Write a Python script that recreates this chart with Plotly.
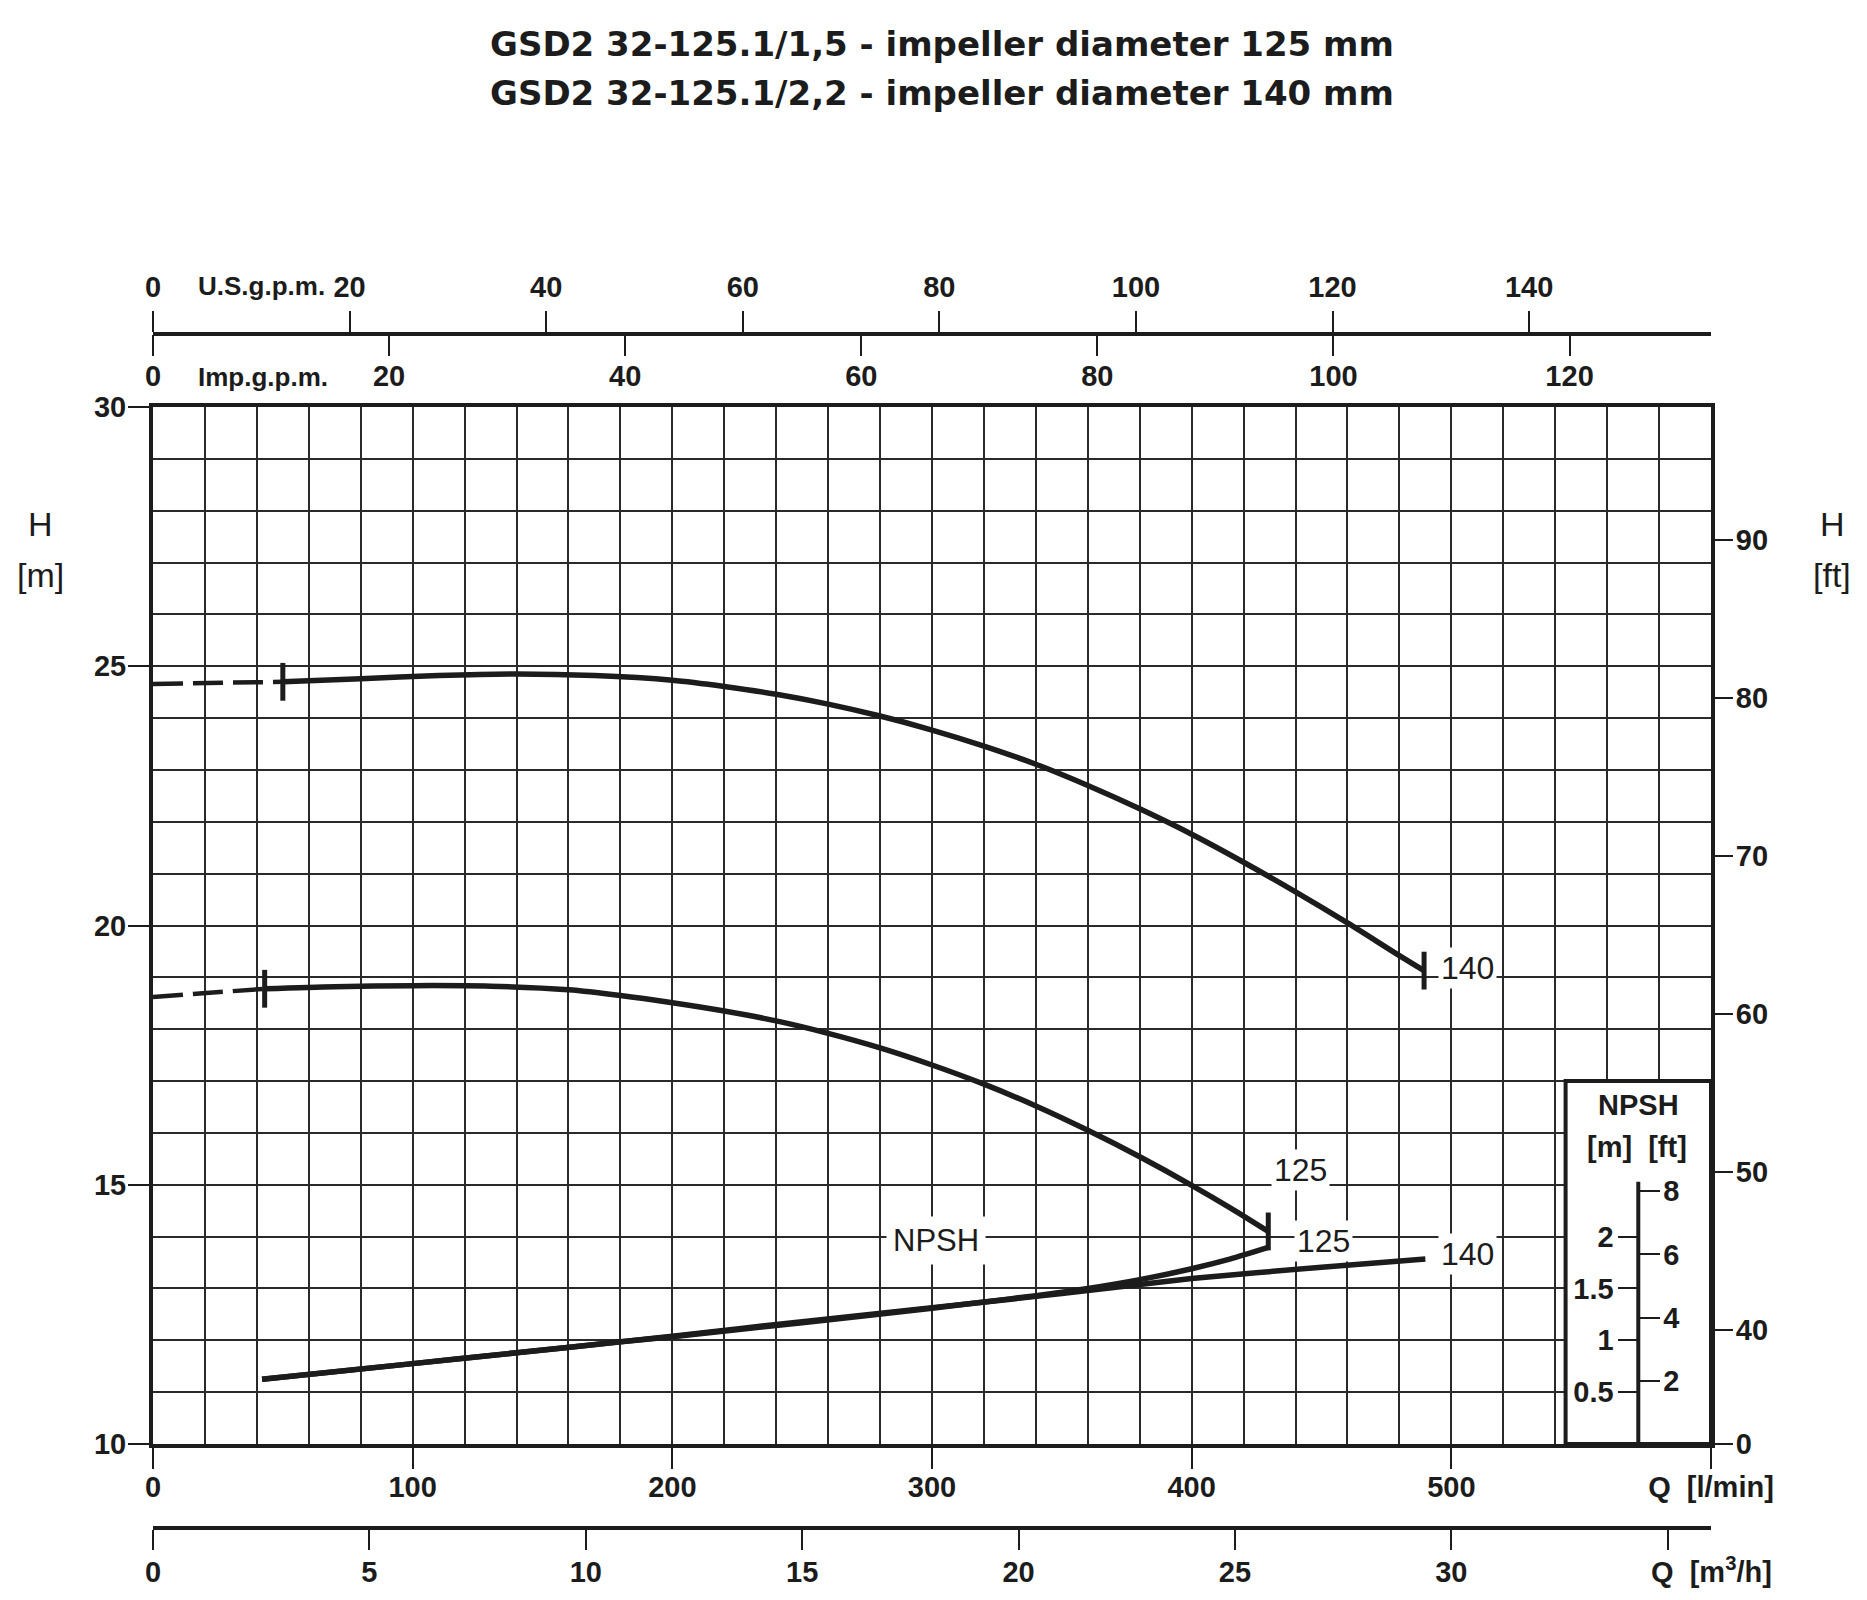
import plotly.graph_objects as go

# ---------------- unit conversions ----------------
LPM_PER_USGPM = 3.785411784
LPM_PER_IMPGPM = 4.54609
M_PER_FT = 0.3048
Q_MAX = 600          # l/min
H_MIN, H_MAX = 10, 30
NPSH_PER_H = 0.5     # NPSH inset scale: 1 m NPSH spans 2 m of H

# ---------------- data ----------------
# impeller 140 mm, H [m] vs Q [l/min]
q140_dash = [0, 50]
h140_dash = [24.66, 24.70]
q140 = [50, 80, 110, 140, 170, 200, 220, 240, 260, 280, 300, 320, 340, 360,
        380, 400, 420, 440, 460, 480, 489.5]
h140 = [24.70, 24.76, 24.82, 24.85, 24.82, 24.73, 24.61, 24.46, 24.27, 24.04,
        23.77, 23.46, 23.11, 22.70, 22.25, 21.76, 21.22, 20.65, 20.05, 19.42, 19.13]

# impeller 125 mm
q125_dash = [0, 43]
h125_dash = [18.62, 18.78]
q125 = [43, 70, 100, 130, 160, 180, 200, 220, 240, 260, 280, 300, 320, 340,
        360, 380, 400, 415, 429.5]
h125 = [18.78, 18.82, 18.84, 18.83, 18.76, 18.65, 18.51, 18.35, 18.16, 17.92,
        17.64, 17.31, 16.94, 16.52, 16.05, 15.54, 14.99, 14.55, 14.10]

# NPSH [m]
qn140 = [42, 100, 140, 180, 200, 250, 300, 350, 400, 450, 490]
npsh140 = [0.625, 0.775, 0.88, 0.985, 1.04, 1.18, 1.315, 1.45, 1.595, 1.705, 1.785]
qn125 = [42, 100, 140, 180, 200, 250, 300, 320, 340, 360, 380, 400, 415, 429.5]
npsh125 = [0.625, 0.775, 0.88, 0.985, 1.035, 1.17, 1.31, 1.37, 1.43, 1.50,
           1.585, 1.69, 1.785, 1.895]

# ---------------- tick labels ----------------
q_ticks = [0, 100, 200, 300, 400, 500, 600]
q_labels = ["0", "100", "200", "300", "400", "500", "Q  [l/min]"]
h_ticks = [10, 15, 20, 25, 30]
ft_ticks = [40, 50, 60, 70, 80, 90]
usgpm_ticks = [0, 20, 40, 60, 80, 100, 120, 140]
impgpm_ticks = [0, 20, 40, 60, 80, 100, 120]
m3h_ticks = [0, 5, 10, 15, 20, 25, 30]
m3h_end_tick = [35]
npsh_m_ticks = [0.5, 1, 1.5, 2]
npsh_m_labels = ["0.5", "1", "1.5", "2"]
npsh_ft_ticks = [2, 4, 6, 8]

# ---------------- geometry (page pixels -> paper) ----------------
BODY = 8                      # default page margin around the plot div
W, H = 1867 - 2 * BODY, 1600 - 2 * BODY
ML, MT, MB = 153 - BODY, 300 - BODY, 20 - BODY
PW = 1558
MR = W - ML - PW
PH = H - MT - MB


def PX(x):
    return (x - (ML + BODY)) / PW


def PY(y):
    return ((H - MB + BODY) - y) / PH


INK = "#1c1c1c"
GRID = "#2a2a2a"
SANS = "Liberation Sans, Arial, sans-serif"
TICKF = dict(family=SANS, size=29, color=INK, weight="bold")
GPMF = dict(family=SANS, size=26, color=INK, weight="bold")
LABF = dict(family=SANS, size=32, color=INK)

fig = go.Figure()

# head curves
fig.add_trace(go.Scatter(x=q140_dash, y=h140_dash, mode="lines",
                         line=dict(color=INK, width=4.5, dash="30px,10px")))
fig.add_trace(go.Scatter(x=q125_dash, y=h125_dash, mode="lines",
                         line=dict(color=INK, width=4.5, dash="30px,10px")))
fig.add_trace(go.Scatter(x=q140, y=h140, mode="lines",
                         line=dict(color=INK, width=5.5, shape="spline", smoothing=0.8)))
fig.add_trace(go.Scatter(x=q125, y=h125, mode="lines",
                         line=dict(color=INK, width=5.5, shape="spline", smoothing=0.8)))
# start / end ticks of the operating range
fig.add_trace(go.Scatter(x=[q140[0], q140[-1], q125[0], q125[-1]],
                         y=[h140[0], h140[-1], h125[0], h125[-1]],
                         mode="markers",
                         marker=dict(symbol="line-ns", size=27,
                                     line=dict(color=INK, width=5))))
# NPSH curves on the NPSH axis
fig.add_trace(go.Scatter(x=qn140, y=npsh140, yaxis="y3", mode="lines",
                         line=dict(color=INK, width=5.5, shape="spline", smoothing=0.6)))
fig.add_trace(go.Scatter(x=qn125, y=npsh125, yaxis="y3", mode="lines",
                         line=dict(color=INK, width=5.5, shape="spline", smoothing=0.6)))
# empty traces so that every secondary axis is built
for xa, ya in [("x2", "y"), ("x3", "y"), ("x4", "y"), ("x", "y2"), ("x", "y4")]:
    fig.add_trace(go.Scatter(x=[], y=[], xaxis=xa, yaxis=ya, hoverinfo="skip"))

common = dict(tickfont=TICKF, tickcolor=INK, ticks="outside", zeroline=False,
              fixedrange=True)

fig.update_layout(
    width=W, height=H,
    margin=dict(l=ML, r=MR, t=MT, b=MB, autoexpand=False),
    paper_bgcolor="white", plot_bgcolor="rgba(0,0,0,0)",
    showlegend=False,
    xaxis=dict(domain=[0, 1], range=[0, Q_MAX], anchor="y",
               tickmode="array", tickvals=q_ticks, ticktext=q_labels,
               ticklen=21, tickwidth=2, ticklabelstandoff=-7,
               showline=True, linewidth=4, linecolor=INK, mirror=True,
               showgrid=True, gridcolor=GRID, gridwidth=1.6,
               minor=dict(tickmode="linear", tick0=0, dtick=20, showgrid=True,
                          gridcolor=GRID, gridwidth=1.6, ticks=""),
               **common),
    yaxis=dict(domain=[PY(1444), PY(407)], range=[H_MIN, H_MAX], anchor="x",
               tickmode="array", tickvals=h_ticks,
               ticklen=21, tickwidth=2, ticklabelstandoff=-4,
               showline=True, linewidth=4, linecolor=INK, mirror=True,
               showgrid=True, gridcolor=GRID, gridwidth=1.6,
               minor=dict(tickmode="linear", tick0=10, dtick=1, showgrid=True,
                          gridcolor=GRID, gridwidth=1.6, ticks=""),
               **common),
    yaxis2=dict(overlaying="y", side="right", anchor="x",
                range=[H_MIN / M_PER_FT, H_MAX / M_PER_FT],
                tickmode="array", tickvals=[H_MIN / M_PER_FT] + ft_ticks,
                ticktext=["0"] + [str(v) for v in ft_ticks],
                ticklen=21, tickwidth=2, ticklabelstandoff=-3,
                showline=False, showgrid=False, **common),
    yaxis3=dict(overlaying="y", anchor="free", position=PX(1638.5), side="left",
                range=[0, (H_MAX - H_MIN) * NPSH_PER_H],
                tickmode="array", tickvals=npsh_m_ticks, ticktext=npsh_m_labels,
                ticklen=21, tickwidth=2, ticklabelstandoff=-2,
                showline=False, showgrid=False, **common),
    yaxis4=dict(overlaying="y", anchor="free", position=PX(1638.5), side="right",
                range=[0, (H_MAX - H_MIN) * NPSH_PER_H / M_PER_FT],
                tickmode="array", tickvals=npsh_ft_ticks,
                ticklen=20, tickwidth=2, ticklabelstandoff=-2,
                showline=False, showgrid=False, **common),
    xaxis2=dict(overlaying="x", anchor="free", position=PY(334), side="top",
                range=[0, Q_MAX / LPM_PER_USGPM],
                tickmode="array", tickvals=usgpm_ticks,
                ticklen=21, tickwidth=2, ticklabelstandoff=2,
                showline=True, linewidth=4, linecolor=INK, showgrid=False, **common),
    xaxis3=dict(overlaying="x", anchor="free", position=PY(334), side="bottom",
                range=[0, Q_MAX / LPM_PER_IMPGPM],
                tickmode="array", tickvals=impgpm_ticks,
                ticklen=21, tickwidth=2, ticklabelstandoff=-5,
                showline=False, showgrid=False, **common),
    xaxis4=dict(overlaying="x", anchor="free", position=PY(1528), side="bottom",
                range=[0, Q_MAX * 60 / 1000],
                tickmode="array", tickvals=m3h_ticks,
                ticklen=20, tickwidth=2, ticklabelstandoff=-3,
                minor=dict(tickmode="array", tickvals=m3h_end_tick, ticks="outside",
                           ticklen=20, tickwidth=2, tickcolor=INK, showgrid=False),
                showline=True, linewidth=4, linecolor=INK, showgrid=False, **common),
)

# NPSH inset box and its inner scale line
fig.add_shape(type="rect", xref="x", yref="y", x0=544, x1=Q_MAX, y0=H_MIN, y1=17,
              fillcolor="white", line=dict(color=INK, width=4), layer="between")
fig.add_shape(type="line", xref="x", yref="y3", x0=572, x1=572, y0=0, y1=2.53,
              line=dict(color=INK, width=4), layer="above")

ann = []


def txt(x, y, s, font, xref="paper", yref="paper", xanchor="center",
        yanchor="middle", **kw):
    ann.append(dict(x=x, y=y, xref=xref, yref=yref, text=s, showarrow=False,
                    font=font, xanchor=xanchor, yanchor=yanchor, **kw))


TITLEF = dict(family="DejaVu Sans, Liberation Sans, sans-serif", size=34,
              color=INK, weight="bold")
txt(PX(942), PY(44), "GSD2 32-125.1/1,5 - impeller diameter 125 mm", TITLEF)
txt(PX(942), PY(93.5), "GSD2 32-125.1/2,2 - impeller diameter 140 mm", TITLEF)

AXF = dict(family=SANS, size=34, color=INK)
txt(PX(40), PY(524), "H", AXF)
txt(PX(40), PY(575), "[m]", AXF)
txt(PX(1832), PY(524), "H", AXF)
txt(PX(1832), PY(575), "[ft]", AXF)

txt(PX(196), PY(286), "U.S.g.p.m.", GPMF, xanchor="left")
txt(PX(196), PY(377), "Imp.g.p.m.", GPMF, xanchor="left")
txt(PX(1711), PY(1570), "Q  [m<sup>3</sup>/h]", TICKF)

txt(PX(1638), PY(1105), "NPSH", TICKF)
txt(PX(1637), PY(1147), "[m]  [ft]", TICKF)

# curve labels
BOX = dict(bgcolor="white", borderpad=2)
txt(q140[-1], h140[-1], "140", LABF, xref="x", yref="y", xanchor="left",
    xshift=14, yshift=3, **BOX)
txt(q125[-1], h125[-1], "125", LABF, xref="x", yref="y",
    xshift=32, yshift=61, **BOX)
txt(qn125[-1], npsh125[-1], "125", LABF, xref="x", yref="y3", xanchor="left",
    xshift=26, yshift=6, **BOX)
txt(qn140[-1], npsh140[-1], "140", LABF, xref="x", yref="y3", xanchor="left",
    xshift=13, yshift=5, **BOX)
txt(301.5, 13.93, "NPSH", dict(LABF, size=31), xref="x", yref="y",
    bgcolor="white", borderpad=6)

fig.update_layout(annotations=ann)

fig.write_html("out.html")
